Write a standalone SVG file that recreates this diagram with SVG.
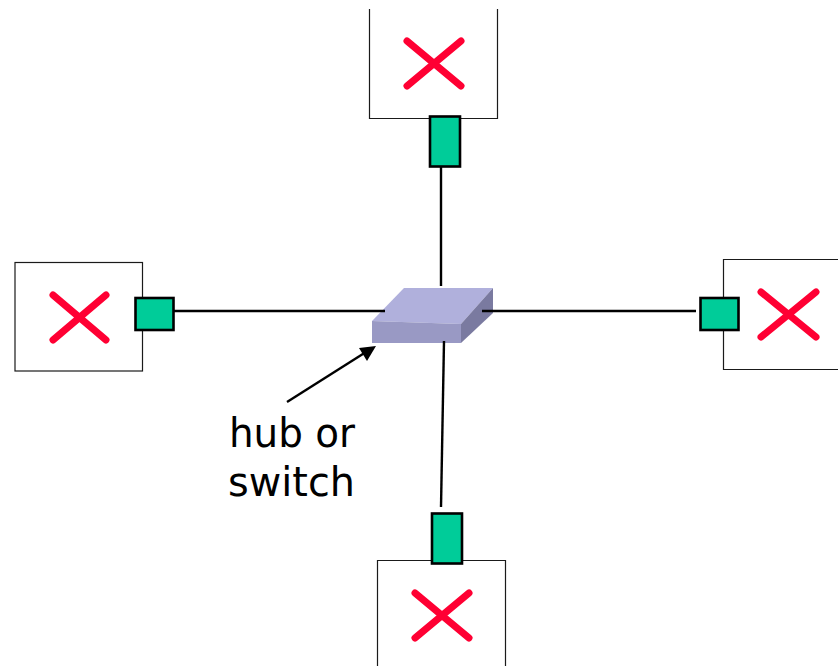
<svg xmlns="http://www.w3.org/2000/svg" width="838" height="666" viewBox="0 0 838 666">
<style>
.box{fill:none;stroke:#1a1a1a;stroke-width:1.2}
.x{fill:none;stroke:#ff0033;stroke-width:7;stroke-linecap:round}
.ad{fill:#00cc99;stroke:#000;stroke-width:2.6}
.ln{fill:none;stroke:#000;stroke-width:2.4}
.t{font-family:"DejaVu Sans",sans-serif;font-size:40px;fill:#000}
</style>
<rect width="838" height="666" fill="#fff"/>
<g id="host-top">
<path class="box" d="M369.500 9V118.500H497.500V9"/>
<path class="x" d="M407 41L461 86M461 41L407 86"/>
<rect class="ad" x="430" y="116.500" width="30" height="50"/>
</g>
<g id="host-left">
<rect class="box" x="15" y="262.500" width="127.500" height="108.500"/>
<path class="x" d="M53 295L106 340M106 295L53 340"/>
<rect class="ad" x="135.500" y="298" width="38" height="32"/>
</g>
<g id="host-right">
<path class="box" d="M838 259.500H723.500V369.500H838"/>
<path class="x" d="M761 292L816 337M816 292L761 337"/>
<rect class="ad" x="700.500" y="298" width="38" height="32"/>
</g>
<g id="host-bottom">
<path class="box" d="M377.500 666V560.500H505.500V666"/>
<path class="x" d="M415 593L469 638M469 593L415 638"/>
<rect class="ad" x="432" y="513.500" width="30" height="50"/>
</g>
<g id="hub">
<polygon points="372,321 404,288 493,288 461,324" fill="#b0b0dc"/>
<polygon points="372,321 461,324 461,343 372,343" fill="#9999c4"/>
<polygon points="461,324 493,288 493,313 461,343" fill="#7a7aa0"/>
</g>
<g id="connectors">
<line class="ln" x1="441" y1="167" x2="441" y2="286"/>
<line class="ln" x1="174" y1="311" x2="385" y2="311"/>
<line class="ln" x1="482" y1="311" x2="696" y2="311"/>
<line class="ln" x1="444" y1="341" x2="441" y2="507"/>
<line class="ln" x1="287" y1="402" x2="366" y2="352"/>
<polygon points="376,346 359,348 367,361" fill="#000"/>
</g>
<g id="label">
<text class="t" x="229" y="447" textLength="126" lengthAdjust="spacingAndGlyphs">hub or</text>
<text class="t" x="228" y="496" textLength="127" lengthAdjust="spacingAndGlyphs">switch</text>
</g>
</svg>
